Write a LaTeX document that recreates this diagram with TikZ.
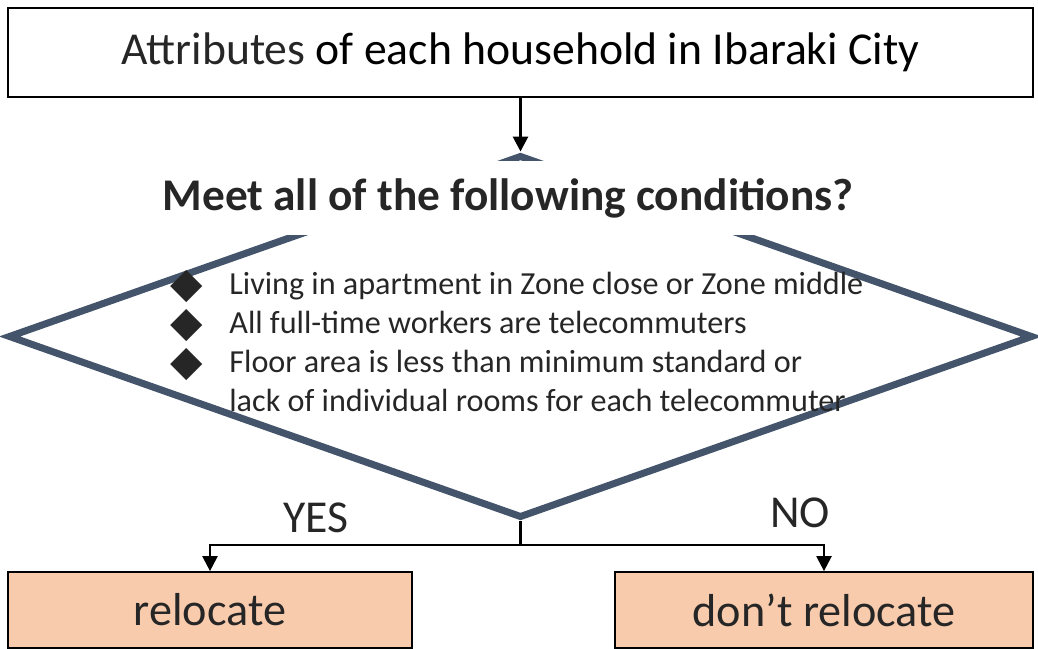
\documentclass[tikz,border=0pt]{standalone}
\usepackage{fontspec}
\setmainfont{Carlito}
\newfontfamily\symfont{DejaVu Sans}
\usetikzlibrary{shapes.geometric,arrows.meta,positioning}

\definecolor{slate}{HTML}{44546A}
\definecolor{peach}{HTML}{F8CBAD}
\definecolor{ink}{HTML}{262626}

% bullet of the condition list
\newcommand{\bul}{\makebox[33.6pt][l]{\raisebox{-1.5pt}{\fontsize{24}{24}\symfont ◆}}}

\begin{document}
\begin{tikzpicture}[x=0.02cm, y=-0.02cm,
  topbox/.style={draw=black, line width=1.1pt, minimum width=20.5cm, minimum height=1.78cm,
    inner sep=0pt, font=\fontsize{26}{31}\selectfont},
  choice/.style={shape=diamond, draw=slate, line width=4pt, minimum width=20.5cm,
    minimum height=7.26cm, inner sep=0pt},
  question/.style={fill=white, text=ink, inner xsep=4pt, minimum height=1.5cm,
    font=\bfseries\fontsize{25.8}{30}\selectfont},
  conds/.style={text=ink, align=left, inner sep=0pt, font=\fontsize{18.3}{22.2}\selectfont},
  result/.style={draw=black, line width=1pt, fill=peach, minimum height=1.52cm,
    inner sep=0pt, text=ink, font=\fontsize{26.3}{31}\selectfont},
  answer/.style={text=ink, font=\fontsize{26}{31}\selectfont},
  conn/.style={line width=1.3pt, -{Triangle[length=0.3cm,width=0.3cm]}}]
  \useasboundingbox (0,0) rectangle (1038,649);
  \clip (0,0) rectangle (1038,649);

  % Households
  \node[topbox] (attr) at (520.5,52.5) {{\color{ink}Attributes} of each household in Ibaraki City};

  % Decision
  \node[choice] (cond) at (520.5,336.5) {};
  \node[question] (ask) at (508,198) {Meet all of the following conditions?};
  \node[conds, anchor=north west] (list) at (170,270) {%
    \bul Living in apartment in Zone close or Zone middle\\
    \bul All full-time workers are telecommuters\\
    \bul Floor area is less than minimum standard or\\
    \hspace*{33.6pt}lack of individual rooms for each telecommuter};

  % Outcomes
  \node[result, minimum width=8.08cm] (reloc) at (210,610) {relocate};
  \node[result, minimum width=8.36cm] (stay) at (824,610) {don’t relocate};
  \node[answer] (yes) at (316,518) {YES};
  \node[answer] (no) at (800,513) {NO};

  \draw[conn, line width=1.6pt] (attr.south) -- (cond.north);
  \coordinate (split) at (520.5,545);
  \draw[line width=1.3pt] (cond.south) -- (split);
  \draw[conn] (split) -| (reloc.north);
  \draw[conn] (split) -| (stay.north);
\end{tikzpicture}
\end{document}
